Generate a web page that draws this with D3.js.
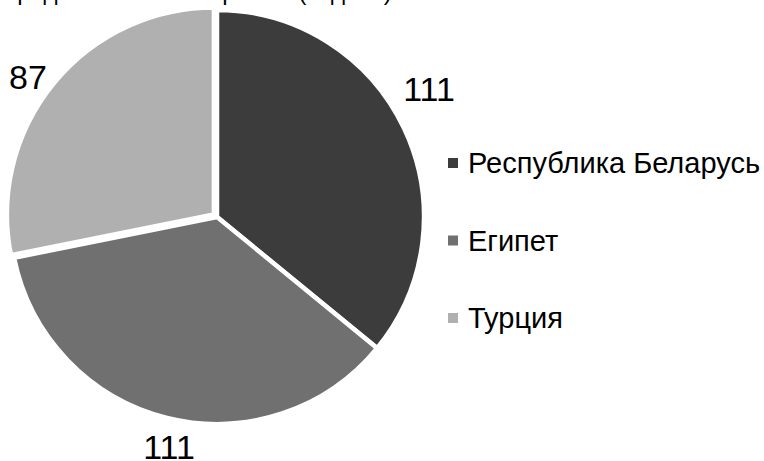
<!DOCTYPE html>
<html><head><meta charset="utf-8">
<script src="https://cdn.jsdelivr.net/npm/d3@7"></script>
<style>html,body{margin:0;padding:0;background:#fff;overflow:hidden}</style>
</head><body>
<svg id="c" width="764" height="461"></svg>
<script>
const categories = ["Республика Беларусь", "Египет", "Турция"];
const values = [111, 111, 87];
const colors = ["#3c3c3c", "#707070", "#b0b0b0"];
const title = "Предпочтения по странам (задачи)";

const svg = d3.select("#c");
const cx = 217, cy = 217, R = 207;

svg.append("text").attr("x", 0).attr("y", 0)
  .attr("font-family", "Liberation Sans, Arial, sans-serif").attr("font-size", 24)
  .attr("fill", "#000").text(title);

const data = categories.map((c, i) => ({name: c, value: values[i], color: colors[i]}));
const pie = d3.pie().sort(null).value(d => d.value).startAngle(0).endAngle(2 * Math.PI);
const arcs = pie(data);
const arc = d3.arc().innerRadius(0).outerRadius(R);
const explode = [0, 0, 4];

const g = svg.append("g").attr("transform", `translate(${cx},${cy})`);
g.selectAll("path").data(arcs).enter().append("path")
  .attr("d", arc)
  .attr("fill", d => d.data.color)
  .attr("stroke", "#fff").attr("stroke-width", 4.5).attr("stroke-linejoin", "miter")
  .attr("transform", (d, i) => {
    const a = (d.startAngle + d.endAngle) / 2;
    return `translate(${Math.sin(a) * explode[i]},${-Math.cos(a) * explode[i]})`;
  });

// data labels outside
const labelPos = [[429, 101], [169, 459], [28, 89]];
g.selectAll("text.lbl").data(arcs).enter().append("text").attr("class", "lbl")
  .attr("x", (d, i) => labelPos[i][0] - cx)
  .attr("y", (d, i) => labelPos[i][1] - cy)
  .attr("text-anchor", "middle")
  .attr("font-family", "Liberation Sans, Arial, sans-serif").attr("font-size", 34)
  .attr("fill", "#000")
  .text(d => d.data.value);

// legend
const leg = svg.append("g");
const legY = d3.scalePoint().domain(categories).range([173, 328]);
leg.selectAll("rect").data(data).enter().append("rect")
  .attr("x", 448).attr("y", d => legY(d.name) - 15)
  .attr("width", 10).attr("height", 10).attr("fill", d => d.color);
leg.selectAll("text").data(data).enter().append("text")
  .attr("x", 468).attr("y", d => legY(d.name))
  .attr("font-family", "Liberation Sans, Arial, sans-serif").attr("font-size", 29)
  .attr("fill", "#000").text(d => d.name);
</script>
</body></html>
